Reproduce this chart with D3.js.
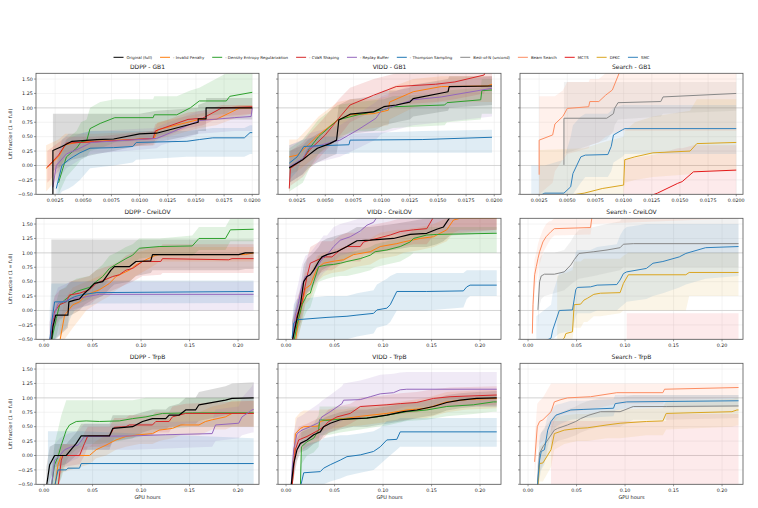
<!DOCTYPE html>
<html><head><meta charset="utf-8">
<script src="https://cdn.jsdelivr.net/npm/d3@7"></script>
<style>body{margin:0;background:#fff}svg{display:block}text{font-family:"DejaVu Sans",sans-serif}</style>
</head><body><svg id="c" width="758" height="508"></svg>
<script>
// ---------- names / colours ----------
const ablKeys = ["full","invalid","density","cvar","replay","thompson"];
const ablNames = ["Original (full)","- Invalid Penalty","- Density Entropy Regularization","- CVaR Shaping","- Replay Buffer","- Thompson Sampling"];
const ablColors = ["#000000","#ff7f0e","#2ca02c","#d62728","#9467bd","#1f77b4"];
const srchKeys = ["bon","beam","mcts","dfkc","smc"];
const srchNames = ["Best-of-N (uncond)","Beam Search","MCTS","DFKC","SMC"];
const srchColors = ["#888888","#fc8d62","#e41a1c","#daa520","#3182bd"];
const yTicks = [-0.5,-0.25,0,0.25,0.5,0.75,1,1.25,1.5];
const xTicksRow1 = [0.0025,0.005,0.0075,0.01,0.0125,0.015,0.0175,0.02];
const xTicksRow23 = [0,0.05,0.1,0.15,0.2];
const rowNames = ["GB1","CreiLOV","TrpB"];
const colNames = ["DDPP","VIDD","Search"];
// each point: [gpu hours, mean lift fraction, band low, band high]

// ---------- GB1 ----------
const ddppGB1 = {
 full:[[0.0023,-0.6,-0.6,0.9],[0.0023,0.26,-0.1,0.9],[0.0031,0.33,0.0,0.9],[0.0040,0.42,0.1,0.9],[0.0062,0.45,0.2,0.9],[0.0077,0.46,0.25,0.9],[0.0100,0.55,0.35,0.9],[0.0115,0.56,0.4,0.95],[0.0152,0.75,0.55,1.0],[0.0152,0.81,0.6,1.05],[0.0159,0.81,0.6,1.1],[0.0159,1.0,0.8,1.17],[0.0200,1.0,0.8,1.17]],
 invalid:[[0.0017,-0.05,-0.45,0.35],[0.0028,0.15,-0.2,0.45],[0.0034,0.36,0.1,0.55],[0.0045,0.40,0.2,0.55],[0.0060,0.42,0.3,0.55],[0.0113,0.47,0.35,0.6],[0.0116,0.62,0.45,0.75],[0.0153,0.80,0.65,0.9],[0.0168,0.80,0.7,0.95],[0.0189,1.0,0.85,1.05],[0.0200,1.0,0.9,1.05]],
 density:[[0.0028,-0.3,-0.5,0.1],[0.0035,0.15,-0.2,0.45],[0.0044,0.30,0.0,0.6],[0.0048,0.41,0.1,0.75],[0.0053,0.43,0.15,0.8],[0.0056,0.64,0.25,1.0],[0.0065,0.73,0.3,1.1],[0.0078,0.83,0.4,1.15],[0.0112,0.83,0.45,1.15],[0.0113,0.88,0.5,1.2],[0.0133,0.88,0.6,1.2],[0.0145,1.0,0.75,1.3],[0.0153,1.12,0.85,1.35],[0.0177,1.12,0.9,1.6],[0.0180,1.20,0.95,1.6],[0.0200,1.27,1.0,1.6]],
 cvar:[[0.0018,-0.03,-0.3,0.25],[0.0028,0.18,-0.1,0.4],[0.0035,0.39,0.2,0.5],[0.0060,0.41,0.3,0.5],[0.0112,0.47,0.35,0.6],[0.0114,0.60,0.45,0.72],[0.0143,0.80,0.65,0.92],[0.0156,0.82,0.7,0.95],[0.0173,1.0,0.85,1.05],[0.0200,1.02,0.9,1.05]],
 replay:[[0.0023,-0.38,-0.5,0.0],[0.0026,0.0,-0.3,0.25],[0.0035,0.2,-0.05,0.45],[0.0047,0.30,0.1,0.55],[0.0057,0.40,0.2,0.6],[0.0115,0.47,0.3,0.65],[0.0119,0.50,0.35,0.7],[0.0153,0.78,0.55,0.95],[0.0184,0.83,0.6,1.0],[0.0199,0.85,0.6,1.0],[0.0200,1.0,0.6,1.0]],
 thompson:[[0.0026,-0.4,-0.6,0.0],[0.0031,0.0,-0.45,0.45],[0.0037,0.10,-0.4,0.55],[0.0041,0.15,-0.35,0.55],[0.0047,0.22,-0.25,0.55],[0.0056,0.30,-0.05,0.6],[0.0077,0.31,0.0,0.6],[0.0094,0.33,0.05,0.6],[0.0097,0.40,0.1,0.6],[0.0142,0.42,0.15,0.6],[0.0153,0.45,0.15,0.62],[0.0165,0.48,0.15,0.65],[0.0193,0.48,0.15,0.65],[0.0198,0.57,0.2,0.7],[0.0200,0.57,0.2,0.7]]
};
const viddGB1 = {
 full:[[0.0018,-0.04,-0.3,0.25],[0.0030,0.10,-0.15,0.35],[0.0035,0.18,-0.05,0.45],[0.0043,0.30,0.05,0.55],[0.0054,0.38,0.15,0.65],[0.0060,0.44,0.2,0.75],[0.0062,0.79,0.45,1.05],[0.0072,0.89,0.55,1.15],[0.0093,0.93,0.6,1.2],[0.0102,1.02,0.7,1.3],[0.0113,1.05,0.75,1.3],[0.0125,1.10,0.8,1.35],[0.0128,1.16,0.85,1.4],[0.0159,1.28,0.95,1.5],[0.0160,1.37,1.0,1.55],[0.0198,1.38,1.05,1.55]],
 invalid:[[0.0018,0.15,-0.15,0.45],[0.0025,0.18,-0.1,0.45],[0.0035,0.36,0.05,0.65],[0.0044,0.53,0.2,0.85],[0.0061,0.79,0.45,1.1],[0.0073,0.88,0.6,1.15],[0.0093,0.90,0.65,1.15],[0.0106,0.96,0.7,1.2],[0.0107,1.10,0.8,1.35],[0.0128,1.28,1.0,1.5],[0.0153,1.37,1.1,1.55],[0.0194,1.38,1.1,1.55],[0.0198,1.41,1.1,1.55]],
 density:[[0.0018,-0.05,-0.45,0.3],[0.0030,0.12,-0.3,0.45],[0.0036,0.30,-0.05,0.6],[0.0044,0.50,0.2,0.8],[0.0061,0.79,0.5,1.05],[0.0079,0.88,0.6,1.1],[0.0102,0.97,0.6,1.15],[0.0110,1.02,0.65,1.2],[0.0156,1.05,0.7,1.25],[0.0158,1.09,0.75,1.3],[0.0188,1.14,0.8,1.35],[0.0189,1.30,0.9,1.5],[0.0198,1.31,0.9,1.5]],
 cvar:[[0.0018,-0.4,-0.5,0.0],[0.0019,-0.05,-0.35,0.25],[0.0030,0.10,-0.2,0.4],[0.0036,0.27,-0.05,0.55],[0.0050,0.53,0.25,0.85],[0.0062,0.82,0.5,1.15],[0.0072,1.05,0.75,1.35],[0.0093,1.22,0.95,1.5],[0.0113,1.37,1.05,1.6],[0.0148,1.41,1.1,1.6],[0.0165,1.45,1.15,1.6],[0.0191,1.57,1.25,1.6],[0.0192,1.62,1.3,1.65],[0.0198,1.65,1.3,1.65]],
 replay:[[0.0018,-0.02,-0.3,0.35],[0.0030,0.12,-0.15,0.45],[0.0035,0.30,0.0,0.55],[0.0043,0.34,0.05,0.6],[0.0063,0.44,0.15,0.7],[0.0079,0.62,0.3,0.9],[0.0095,0.82,0.45,1.1],[0.0100,0.96,0.55,1.2],[0.0128,1.14,0.7,1.4],[0.0153,1.19,0.75,1.45],[0.0198,1.34,0.85,1.55]],
 thompson:[[0.0018,0.04,-0.25,0.35],[0.0025,0.15,-0.1,0.4],[0.0031,0.33,0.2,0.45],[0.0041,0.34,0.2,0.5],[0.0071,0.36,0.2,0.5],[0.0072,0.44,0.22,0.55],[0.0136,0.45,0.22,0.6],[0.0198,0.49,0.22,0.62]]
};
const searchGB1 = {
 bon:[[0.0047,0.01,-0.3,0.5],[0.0047,0.82,0.2,1.45],[0.0085,0.82,0.45,1.45],[0.0091,0.90,0.6,1.45],[0.0092,0.99,0.7,1.45],[0.0095,1.09,0.8,1.45],[0.0133,1.11,0.85,1.45],[0.0135,1.19,0.9,1.45],[0.0200,1.25,0.95,1.45]],
 beam:[[0.0025,-0.16,-0.5,1.2],[0.0025,0.44,-0.5,1.2],[0.0037,0.53,-0.3,1.2],[0.0039,0.72,-0.1,1.2],[0.0046,0.85,0.1,1.3],[0.0050,0.99,0.2,1.45],[0.0069,1.02,0.3,1.45],[0.0070,1.11,0.35,1.5],[0.0078,1.11,0.4,1.5],[0.0084,1.22,0.5,1.6],[0.0090,1.31,0.55,1.6],[0.0097,1.65,0.6,1.65],[0.0200,1.70,0.6,1.65]],
 mcts:[[0.0100,-0.7,-0.8,0.1],[0.0130,-0.48,-0.8,0.2],[0.0148,-0.31,-0.7,0.3],[0.0152,-0.28,-0.7,0.3],[0.0162,-0.11,-0.6,0.35],[0.0200,-0.08,-0.6,0.35]],
 dfkc:[[0.0025,-0.6,-0.5,0.27],[0.0065,-0.48,-0.5,0.3],[0.0081,-0.40,-0.5,0.4],[0.0100,-0.34,-0.5,0.5],[0.0101,0.10,-0.3,0.6],[0.0110,0.15,-0.25,0.75],[0.0126,0.22,-0.2,0.85],[0.0159,0.25,-0.15,0.95],[0.0165,0.38,-0.1,1.15],[0.0200,0.40,-0.1,1.15]],
 smc:[[0.0018,-0.6,-0.5,0.0],[0.0030,-0.48,-0.5,0.0],[0.0047,-0.48,-0.5,0.1],[0.0053,-0.37,-0.5,0.5],[0.0055,-0.14,-0.5,0.7],[0.0062,0.15,-0.3,0.85],[0.0066,0.18,-0.2,0.9],[0.0086,0.19,-0.2,0.9],[0.0089,0.33,-0.1,0.95],[0.0091,0.53,0.05,1.0],[0.0099,0.62,0.15,1.05],[0.0101,0.64,0.2,1.05],[0.0200,0.64,0.2,1.05]]
};

// ---------- CreiLOV ----------
const ddppCrei = {
 full:[[0.0075,-0.55,-0.5,1.23],[0.0092,-0.28,-0.5,1.23],[0.0120,-0.08,-0.5,1.23],[0.0246,-0.08,-0.3,1.23],[0.0256,0.15,-0.1,1.23],[0.0315,0.18,-0.05,1.23],[0.0366,0.20,0.0,1.23],[0.0417,0.30,0.1,1.23],[0.0468,0.38,0.15,1.23],[0.0520,0.47,0.2,1.23],[0.0605,0.50,0.25,1.23],[0.0690,0.70,0.4,1.23],[0.0725,0.76,0.45,1.23],[0.0879,0.76,0.5,1.23],[0.0947,0.85,0.6,1.23],[0.1100,0.86,0.65,1.23],[0.1118,0.97,0.7,1.23],[0.2007,0.97,0.7,1.23],[0.2075,1.0,0.72,1.23],[0.2160,1.0,0.72,1.23]],
 invalid:[[0.0161,-0.55,-0.6,-0.3],[0.0212,-0.08,-0.5,0.2],[0.0297,0.10,-0.3,0.4],[0.0366,0.15,-0.15,0.45],[0.0434,0.27,0.0,0.5],[0.0571,0.36,0.15,0.6],[0.0674,0.47,0.25,0.7],[0.0742,0.59,0.35,0.8],[0.0879,0.70,0.5,0.9],[0.0947,0.79,0.6,1.0],[0.1050,0.88,0.7,1.05],[0.1152,0.96,0.8,1.1],[0.1186,0.97,0.85,1.1],[0.2075,0.97,0.85,1.1],[0.2160,1.0,0.85,1.1]],
 density:[[0.0075,-0.55,-0.6,-0.3],[0.0126,-0.14,-0.45,0.15],[0.0161,0.10,-0.2,0.35],[0.0212,0.18,-0.05,0.4],[0.0280,0.27,0.05,0.5],[0.0332,0.33,0.1,0.55],[0.0468,0.40,0.2,0.6],[0.0537,0.50,0.3,0.7],[0.0605,0.59,0.4,0.8],[0.0674,0.73,0.55,0.95],[0.0742,0.80,0.6,1.0],[0.0844,0.90,0.7,1.1],[0.0913,0.96,0.8,1.15],[0.0981,1.08,0.9,1.25],[0.1186,1.11,0.95,1.25],[0.1528,1.12,0.95,1.3],[0.1597,1.25,1.05,1.45],[0.1870,1.25,1.05,1.45],[0.1921,1.40,1.2,1.6],[0.2160,1.41,1.2,1.6]],
 cvar:[[0.0058,-0.55,-0.6,-0.2],[0.0109,-0.02,-0.3,0.25],[0.0161,0.10,-0.15,0.35],[0.0229,0.15,-0.1,0.4],[0.0263,0.27,0.0,0.5],[0.0366,0.30,0.05,0.55],[0.0468,0.36,0.1,0.6],[0.0537,0.47,0.2,0.7],[0.0708,0.59,0.35,0.8],[0.0776,0.62,0.4,0.85],[0.0844,0.70,0.45,0.95],[0.0913,0.73,0.5,1.0],[0.1015,0.85,0.6,1.1],[0.1203,0.85,0.62,1.1],[0.1221,0.90,0.65,1.15],[0.1904,0.88,0.65,1.15],[0.1938,0.90,0.65,1.15],[0.2160,0.90,0.65,1.15]],
 replay:[[0.0058,-0.55,-0.6,-0.2],[0.0092,-0.14,-0.4,0.15],[0.0144,0.12,-0.15,0.4],[0.0280,0.21,0.0,0.5],[0.0383,0.22,0.0,0.5],[0.0434,0.24,0.0,0.5],[0.0537,0.27,0.0,0.5],[0.0571,0.28,0.0,0.5],[0.2160,0.28,0.0,0.5]],
 thompson:[[0.0058,-0.55,-0.6,0.0],[0.0075,-0.25,-0.5,0.47],[0.0109,0.15,-0.5,0.47],[0.0229,0.15,-0.3,0.47],[0.0280,0.21,-0.1,0.5],[0.0315,0.24,0.0,0.5],[0.0383,0.27,0.05,0.5],[0.0537,0.31,0.12,0.52],[0.2160,0.33,0.13,0.52]]
};
const viddCrei = {
 full:[[0.0062,-0.55,-0.6,-0.2],[0.0113,-0.14,-0.4,0.15],[0.0148,0.10,-0.2,0.4],[0.0182,0.50,0.2,0.8],[0.0216,0.59,0.3,0.9],[0.0250,0.62,0.35,0.95],[0.0285,0.70,0.45,1.0],[0.0336,0.85,0.6,1.1],[0.0370,0.93,0.7,1.2],[0.0422,0.97,0.75,1.25],[0.0525,1.02,0.8,1.3],[0.0628,1.11,0.9,1.35],[0.0731,1.21,1.0,1.45],[0.0868,1.22,1.0,1.45],[0.1108,1.25,1.05,1.5],[0.1280,1.32,1.1,1.55],[0.1451,1.34,1.1,1.6],[0.1554,1.41,1.15,1.6],[0.1623,1.45,1.2,1.65],[0.1691,1.62,1.3,1.7],[0.2170,1.68,1.35,1.7]],
 invalid:[[0.0096,-0.55,-0.6,-0.3],[0.0130,-0.14,-0.45,0.1],[0.0165,0.10,-0.2,0.4],[0.0199,0.38,0.1,0.65],[0.0250,0.44,0.2,0.7],[0.0319,0.73,0.5,0.95],[0.0388,0.82,0.6,1.0],[0.0473,0.85,0.65,1.05],[0.0593,0.88,0.68,1.1],[0.0696,0.97,0.75,1.2],[0.0868,1.02,0.8,1.25],[0.0971,1.11,0.9,1.35],[0.1142,1.16,0.95,1.4],[0.1211,1.19,1.0,1.4],[0.1383,1.25,1.05,1.45],[0.1520,1.28,1.1,1.5],[0.1657,1.40,1.2,1.6],[0.1726,1.57,1.35,1.6],[0.1794,1.60,1.4,1.6],[0.2172,1.60,1.4,1.6]],
 density:[[0.0079,-0.55,-0.6,-0.3],[0.0113,-0.25,-0.5,0.0],[0.0165,0.10,-0.2,0.4],[0.0216,0.27,0.0,0.55],[0.0250,0.30,0.05,0.6],[0.0285,0.50,0.25,0.75],[0.0336,0.76,0.5,0.95],[0.0422,0.79,0.55,0.95],[0.0491,0.80,0.58,0.95],[0.0559,0.82,0.6,1.0],[0.0628,0.85,0.6,1.0],[0.0765,0.90,0.65,1.05],[0.0868,0.96,0.7,1.1],[0.0919,1.02,0.75,1.15],[0.1039,1.05,0.8,1.2],[0.1177,1.11,0.85,1.25],[0.1280,1.19,0.95,1.35],[0.1314,1.25,1.0,1.4],[0.1451,1.31,1.0,1.45],[0.1554,1.32,1.0,1.45],[0.2172,1.34,1.0,1.45]],
 cvar:[[0.0062,-0.55,-0.6,-0.2],[0.0113,-0.08,-0.35,0.2],[0.0165,0.15,-0.15,0.45],[0.0216,0.59,0.3,0.9],[0.0250,0.82,0.5,1.1],[0.0353,0.90,0.65,1.2],[0.0405,0.93,0.7,1.2],[0.0473,0.93,0.7,1.2],[0.0559,1.05,0.8,1.3],[0.0628,1.11,0.85,1.35],[0.0765,1.11,0.85,1.35],[0.0799,1.19,0.95,1.45],[0.0937,1.25,1.0,1.5],[0.1074,1.31,1.05,1.55],[0.1177,1.37,1.1,1.6],[0.1314,1.40,1.15,1.6],[0.1451,1.42,1.15,1.65],[0.1520,1.62,1.3,1.7],[0.2170,1.70,1.4,1.8]],
 replay:[[0.0062,-0.55,-0.6,-0.2],[0.0096,-0.08,-0.35,0.25],[0.0130,0.15,-0.15,0.5],[0.0165,0.44,0.1,0.8],[0.0199,0.59,0.3,0.95],[0.0250,0.62,0.35,1.0],[0.0319,0.76,0.5,1.15],[0.0388,0.93,0.65,1.3],[0.0422,0.96,0.7,1.3],[0.0491,1.11,0.85,1.45],[0.0559,1.22,0.95,1.5],[0.0662,1.28,1.0,1.55],[0.0765,1.38,1.1,1.6],[0.0834,1.48,1.2,1.65],[0.0902,1.53,1.25,1.7],[0.0937,1.62,1.3,1.7],[0.2170,1.75,1.4,1.8]],
 thompson:[[0.0062,-0.48,-0.6,-0.2],[0.0079,-0.22,-0.55,0.1],[0.0113,-0.16,-0.5,0.2],[0.0422,-0.12,-0.5,0.25],[0.0628,-0.10,-0.5,0.25],[0.0731,-0.08,-0.45,0.3],[0.0902,-0.05,-0.4,0.35],[0.0937,0.01,-0.3,0.45],[0.1039,0.04,-0.25,0.55],[0.1074,0.10,-0.2,0.6],[0.1142,0.33,0.0,0.65],[0.1451,0.33,0.0,0.65],[0.1828,0.34,0.05,0.65],[0.1863,0.41,0.2,0.7],[0.1897,0.44,0.25,0.7],[0.2172,0.44,0.25,0.7]]
};
const searchCrei = {
 bon:[[0.0102,0.01,-0.3,0.4],[0.0119,0.50,0.1,0.9],[0.0136,0.60,0.2,0.95],[0.0169,0.63,0.25,1.0],[0.0271,0.63,0.3,1.0],[0.0373,0.67,0.35,1.05],[0.0441,0.79,0.45,1.2],[0.0475,0.88,0.5,1.3],[0.0525,0.99,0.55,1.4],[0.0678,1.02,0.6,1.45],[0.0814,1.05,0.65,1.5],[0.0949,1.09,0.7,1.55],[0.0983,1.15,0.75,1.65],[0.1085,1.16,0.75,1.65],[0.2170,1.16,0.75,1.65]],
 beam:[[0.0044,-0.40,-0.5,-0.1],[0.0051,0.10,-0.2,0.4],[0.0068,0.62,0.35,0.9],[0.0085,0.76,0.5,1.0],[0.0102,0.90,0.65,1.15],[0.0119,1.02,0.8,1.25],[0.0153,1.19,1.0,1.4],[0.0186,1.28,1.1,1.5],[0.0220,1.34,1.2,1.55],[0.0237,1.37,1.25,1.55],[0.0271,1.42,1.3,1.6],[0.0644,1.44,1.32,1.6],[0.0661,1.65,1.5,1.8],[0.2170,1.80,1.6,1.9]],
 mcts:[[0.1017,-0.8,-0.8,-0.05],[0.2170,-0.8,-0.8,-0.05]],
 dfkc:[[0.0300,-0.6,-0.6,0.6],[0.0373,-0.48,-0.5,0.65],[0.0390,-0.40,-0.5,0.65],[0.0458,-0.37,-0.5,0.7],[0.0475,0.10,-0.3,0.85],[0.0542,0.11,-0.3,0.85],[0.0576,0.18,-0.2,0.9],[0.0610,0.21,-0.2,0.9],[0.0678,0.28,-0.1,0.9],[0.0746,0.30,-0.1,0.9],[0.0949,0.31,-0.05,0.9],[0.0983,0.47,0.0,0.95],[0.1034,0.62,0.0,1.0],[0.1627,0.62,0.0,1.0],[0.1661,0.66,0.25,1.0],[0.2170,0.66,0.25,1.0]],
 smc:[[0.0085,-0.6,-0.6,-0.1],[0.0237,-0.48,-0.5,0.1],[0.0254,-0.34,-0.5,0.3],[0.0322,0.00,-0.4,0.65],[0.0458,0.01,-0.35,0.75],[0.0492,0.36,-0.1,1.0],[0.0508,0.40,-0.05,1.05],[0.0644,0.41,-0.05,1.05],[0.0712,0.44,0.0,1.1],[0.0915,0.45,0.0,1.15],[0.0949,0.53,0.05,1.3],[0.0983,0.64,0.1,1.4],[0.1017,0.67,0.15,1.45],[0.1220,0.73,0.2,1.5],[0.1288,0.82,0.25,1.5],[0.1390,0.85,0.3,1.5],[0.1559,0.93,0.4,1.5],[0.1627,0.99,0.45,1.5],[0.1831,1.09,0.55,1.5],[0.2170,1.11,0.6,1.5]]
};

// ---------- TrpB ----------
const ddppTrpB = {
 full:[[0.0024,-0.55,-0.6,-0.2],[0.0058,-0.16,-0.45,0.15],[0.0109,0.00,-0.2,0.2],[0.0229,0.00,-0.15,0.2],[0.0332,0.21,0.0,0.4],[0.0383,0.34,0.1,0.55],[0.0674,0.34,0.1,0.55],[0.0708,0.47,0.25,0.7],[0.0913,0.50,0.3,0.7],[0.1015,0.59,0.4,0.75],[0.1118,0.64,0.45,0.8],[0.1255,0.64,0.45,0.8],[0.1289,0.70,0.5,0.85],[0.1391,0.70,0.5,0.9],[0.1460,0.79,0.55,1.0],[0.1562,0.79,0.55,1.0],[0.1597,0.88,0.6,1.1],[0.1870,0.96,0.7,1.2],[0.1938,0.99,0.72,1.25],[0.2161,1.00,0.72,1.27]],
 invalid:[[0.0109,-0.55,-0.6,-0.3],[0.0144,-0.16,-0.5,0.1],[0.0178,0.00,-0.3,0.2],[0.0468,0.00,-0.15,0.15],[0.0537,0.10,-0.05,0.25],[0.0639,0.18,0.0,0.35],[0.0742,0.27,0.1,0.45],[0.0844,0.33,0.15,0.5],[0.0981,0.36,0.2,0.55],[0.1118,0.38,0.2,0.55],[0.1186,0.44,0.25,0.6],[0.1323,0.47,0.3,0.65],[0.1409,0.53,0.35,0.7],[0.1597,0.53,0.35,0.75],[0.1665,0.59,0.4,0.8],[0.1733,0.62,0.45,0.85],[0.1870,0.67,0.45,0.9],[0.1938,0.73,0.5,0.95],[0.2161,0.73,0.5,0.95]],
 density:[[0.0075,-0.55,-0.6,-0.3],[0.0109,-0.16,-0.5,0.2],[0.0144,-0.02,-0.5,0.45],[0.0178,0.18,-0.4,0.7],[0.0229,0.44,-0.1,0.96],[0.0263,0.53,0.0,0.96],[0.0332,0.59,0.1,0.96],[0.0434,0.60,0.2,0.96],[0.0571,0.59,0.2,0.96],[0.0776,0.60,0.25,0.96],[0.0913,0.64,0.3,0.96],[0.1050,0.67,0.35,1.0],[0.1221,0.73,0.45,1.0],[0.1528,0.74,0.5,1.0],[0.2161,0.74,0.5,1.0]],
 cvar:[[0.0144,-0.55,-0.6,-0.3],[0.0178,-0.08,-0.35,0.15],[0.0195,0.00,-0.2,0.2],[0.0366,0.00,-0.15,0.2],[0.0417,0.21,0.0,0.4],[0.0451,0.34,0.15,0.5],[0.0674,0.34,0.15,0.5],[0.0725,0.49,0.3,0.65],[0.0844,0.50,0.32,0.65],[0.0879,0.53,0.35,0.7],[0.1118,0.53,0.35,0.7],[0.1152,0.59,0.4,0.75],[0.1289,0.59,0.4,0.75],[0.1323,0.67,0.5,0.85],[0.1460,0.73,0.5,0.9],[0.2161,0.73,0.5,0.95]],
 replay:[[0.0075,-0.55,-0.6,-0.3],[0.0109,-0.08,-0.4,0.2],[0.0161,0.00,-0.25,0.3],[0.0212,0.10,-0.15,0.35],[0.0280,0.15,-0.1,0.4],[0.0349,0.18,-0.05,0.42],[0.0417,0.33,0.1,0.55],[0.0913,0.34,0.1,0.55],[0.1255,0.36,0.12,0.58],[0.1733,0.38,0.15,0.6],[0.1768,0.53,0.25,0.8],[0.2007,0.56,0.3,0.85],[0.2041,0.67,0.35,1.0],[0.2144,0.79,0.4,1.2],[0.2161,0.80,0.4,1.27]],
 thompson:[[0.0040,-0.8,-0.8,0.42],[0.0109,-0.55,-0.6,0.42],[0.0144,-0.25,-0.6,0.42],[0.0229,-0.25,-0.6,0.42],[0.0246,-0.22,-0.6,0.42],[0.0366,-0.22,-0.6,0.42],[0.0383,-0.14,-0.6,0.42],[0.2161,-0.14,-0.6,0.3]]
};
const viddTrpB = {
 full:[[0.0051,-0.55,-0.6,-0.3],[0.0079,-0.14,-0.4,0.15],[0.0113,0.10,-0.1,0.3],[0.0148,0.21,0.05,0.4],[0.0216,0.27,0.1,0.45],[0.0285,0.36,0.2,0.5],[0.0353,0.41,0.25,0.55],[0.0388,0.50,0.35,0.65],[0.0456,0.56,0.4,0.7],[0.0559,0.62,0.45,0.75],[0.0696,0.64,0.5,0.8],[0.0834,0.65,0.5,0.8],[0.1039,0.70,0.55,0.85],[0.1211,0.76,0.6,0.9],[0.1348,0.79,0.65,0.92],[0.1520,0.85,0.7,0.98],[0.1657,0.92,0.78,1.05],[0.1794,0.96,0.82,1.08],[0.1966,0.99,0.85,1.1],[0.2172,1.00,0.85,1.12]],
 invalid:[[0.0062,-0.55,-0.6,-0.2],[0.0096,0.38,0.1,0.65],[0.0148,0.47,0.25,0.75],[0.0182,0.50,0.3,0.78],[0.0336,0.51,0.3,0.78],[0.0353,0.59,0.4,0.8],[0.0422,0.62,0.45,0.8],[0.0593,0.64,0.5,0.8],[0.0765,0.68,0.52,0.85],[0.1039,0.73,0.58,0.9],[0.1245,0.79,0.62,0.95],[0.1451,0.82,0.65,1.0],[0.1657,0.93,0.75,1.1],[0.1863,0.97,0.8,1.12],[0.2172,0.99,0.82,1.15]],
 density:[[0.0148,-0.55,-0.6,-0.3],[0.0158,0.15,-0.15,0.45],[0.0216,0.24,0.0,0.5],[0.0285,0.30,0.05,0.55],[0.0336,0.44,0.15,0.7],[0.0346,0.62,0.35,0.85],[0.0422,0.61,0.35,0.85],[0.0559,0.63,0.4,0.85],[0.0765,0.64,0.45,0.85],[0.0937,0.67,0.5,0.85],[0.1039,0.70,0.52,0.88],[0.1245,0.76,0.6,0.92],[0.1451,0.79,0.62,0.95],[0.1657,0.85,0.68,1.0],[0.1931,0.88,0.72,1.02],[0.2137,0.93,0.76,1.05],[0.2172,0.93,0.76,1.05]],
 cvar:[[0.0062,-0.55,-0.6,-0.2],[0.0096,0.10,-0.15,0.35],[0.0130,0.27,0.05,0.5],[0.0216,0.33,0.15,0.55],[0.0336,0.44,0.25,0.65],[0.0388,0.50,0.3,0.7],[0.0439,0.59,0.4,0.8],[0.0525,0.67,0.45,0.85],[0.0662,0.73,0.55,0.9],[0.0765,0.85,0.65,1.0],[0.1039,0.88,0.7,1.05],[0.1177,0.90,0.72,1.08],[0.1348,0.92,0.75,1.1],[0.1520,0.99,0.82,1.15],[0.1691,1.02,0.85,1.18],[0.2172,1.05,0.88,1.2]],
 replay:[[0.0051,-0.55,-0.6,-0.2],[0.0079,0.10,-0.2,0.4],[0.0113,0.38,0.1,0.65],[0.0165,0.44,0.2,0.7],[0.0250,0.50,0.25,0.8],[0.0336,0.57,0.3,0.9],[0.0370,0.67,0.35,0.95],[0.0456,0.76,0.45,1.05],[0.0576,0.90,0.6,1.2],[0.0593,0.96,0.65,1.25],[0.0765,0.97,0.65,1.3],[0.0868,1.02,0.7,1.35],[0.0971,1.07,0.75,1.4],[0.1108,1.09,0.78,1.42],[0.1177,1.14,0.82,1.44],[0.1245,1.15,0.85,1.45],[0.2172,1.15,0.85,1.45]],
 thompson:[[0.0148,-0.55,-0.6,-0.2],[0.0182,-0.30,-0.55,0.2],[0.0353,-0.28,-0.55,0.25],[0.0388,-0.22,-0.5,0.3],[0.0456,-0.16,-0.45,0.32],[0.0559,-0.08,-0.4,0.35],[0.0628,-0.02,-0.35,0.35],[0.0765,0.01,-0.3,0.38],[0.0902,0.07,-0.25,0.42],[0.0971,0.15,-0.15,0.48],[0.1039,0.27,-0.05,0.6],[0.1142,0.28,0.1,0.62],[0.1177,0.41,0.15,0.65],[0.2172,0.41,0.15,0.65]]
};
const searchTrpB = {
 bon:[[0.0095,-0.55,-0.6,-0.2],[0.0119,0.04,-0.3,0.35],[0.0153,0.15,-0.15,0.45],[0.0203,0.27,0.0,0.55],[0.0271,0.44,0.2,0.7],[0.0305,0.47,0.25,0.72],[0.0407,0.53,0.3,0.8],[0.0492,0.59,0.35,0.85],[0.0542,0.64,0.4,0.9],[0.0627,0.70,0.45,0.95],[0.0746,0.76,0.5,1.0],[0.0949,0.76,0.5,1.0],[0.1085,0.85,0.62,1.05],[0.1424,0.85,0.62,1.05],[0.2170,0.86,0.65,1.05]],
 beam:[[0.0068,-0.11,-0.4,0.3],[0.0095,0.50,0.1,0.9],[0.0119,0.59,0.2,0.95],[0.0153,0.62,0.25,1.0],[0.0237,0.76,0.4,1.25],[0.0271,0.93,0.6,1.25],[0.0339,0.97,0.7,1.25],[0.0407,1.00,0.75,1.25],[0.0644,1.02,0.8,1.25],[0.0915,1.09,0.9,1.25],[0.1390,1.09,0.9,1.25],[0.1407,1.15,0.95,1.25],[0.2170,1.18,1.0,1.25]],
 mcts:[[0.0237,-0.8,-0.8,0.6],[0.1424,-0.8,-0.8,0.6],[0.1424,-0.8,-0.8,0.72],[0.2170,-0.8,-0.8,0.72]],
 dfkc:[[0.0102,-0.55,-0.6,-0.3],[0.0119,-0.14,-0.45,0.15],[0.0153,-0.13,-0.45,0.2],[0.0237,0.10,-0.2,0.45],[0.0271,0.38,0.1,0.65],[0.0373,0.44,0.2,0.7],[0.0508,0.47,0.25,0.72],[0.0610,0.48,0.25,0.72],[0.0814,0.53,0.3,0.78],[0.0949,0.56,0.3,0.8],[0.1220,0.59,0.35,0.82],[0.1390,0.60,0.35,0.82],[0.1424,0.73,0.45,0.95],[0.2102,0.76,0.5,0.98],[0.2153,0.79,0.52,1.0],[0.2170,0.79,0.52,1.0]],
 smc:[[0.0095,-0.55,-0.6,-0.2],[0.0119,-0.08,-0.4,0.25],[0.0136,0.07,-0.25,0.4],[0.0169,0.10,-0.15,0.45],[0.0203,0.44,0.15,0.7],[0.0237,0.59,0.35,0.8],[0.0288,0.70,0.5,0.88],[0.0339,0.73,0.55,0.9],[0.0441,0.79,0.62,0.95],[0.0576,0.80,0.65,0.95],[0.0881,0.82,0.68,0.98],[0.0898,0.90,0.78,1.05],[0.1017,0.93,0.82,1.05],[0.2170,0.95,0.85,1.05]]
};

// ---------- drawing ----------
const panelData = [[ddppGB1,viddGB1,searchGB1],[ddppCrei,viddCrei,searchCrei],[ddppTrpB,viddTrpB,searchTrpB]];
const svg = d3.select("#c");
svg.append("rect").attr("width",758).attr("height",508).attr("fill","#fff");
const colLeft = [36,278,520], rowTop = [73.3,218.3,363.3], PW = 223, PH = 121;
const yDom = [-0.5,1.6];
const xDomRow1 = [0.0008,0.0206], xDomRow23 = [-0.0083,0.2216];
const minus = s => s.replace("-","\u2212");
const srchAlpha = [0.12,0.12,0.09,0.11,0.11];

panelData.forEach((rowArr,r)=>{
  rowArr.forEach((data,c)=>{
    const L = colLeft[c], T = rowTop[r];
    const x = d3.scaleLinear().domain(r===0?xDomRow1:xDomRow23).range([L,L+PW]);
    const y = d3.scaleLinear().domain(yDom).range([T+PH,T]);
    const xt = r===0?xTicksRow1:xTicksRow23;
    const g = svg.append("g");
    const cid = "clip"+r+c;
    g.append("clipPath").attr("id",cid).append("rect").attr("x",L).attr("y",T).attr("width",PW).attr("height",PH);
    const grid = g.append("g");
    grid.selectAll(".gx").data(xt).enter().append("line")
      .attr("x1",d=>x(d)).attr("x2",d=>x(d)).attr("y1",T).attr("y2",T+PH)
      .attr("stroke","#e6e6e6").attr("stroke-width",0.5);
    grid.selectAll(".gy").data(yTicks).enter().append("line")
      .attr("x1",L).attr("x2",L+PW).attr("y1",d=>y(d)).attr("y2",d=>y(d))
      .attr("stroke","#e6e6e6").attr("stroke-width",0.5);
    grid.selectAll(".ref").data([0,1]).enter().append("line")
      .attr("x1",L).attr("x2",L+PW).attr("y1",d=>y(d)).attr("y2",d=>y(d))
      .attr("stroke","#c4c4c4").attr("stroke-width",0.6);
    const isSearch = c===2;
    const keys = isSearch?srchKeys:ablKeys;
    const cols = isSearch?srchColors:ablColors;
    const area = d3.area().x(d=>x(d[0])).y0(d=>y(d[2])).y1(d=>y(d[3]));
    const line = d3.line().x(d=>x(d[0])).y(d=>y(d[1]));
    const pg = g.append("g").attr("clip-path","url(#"+cid+")");
    keys.forEach((k,i)=>{
      pg.append("path").datum(data[k]).attr("d",area)
        .attr("fill",cols[i]).attr("fill-opacity",isSearch?srchAlpha[i]:0.14).attr("stroke","none");
    });
    const order = isSearch?[0,1,2,3,4]:[1,2,3,4,5,0];
    order.forEach(i=>{
      pg.append("path").datum(data[keys[i]]).attr("d",line)
        .attr("fill","none").attr("stroke",cols[i]).attr("stroke-width",i===0&&!isSearch?1.2:1.0)
        .attr("stroke-linejoin","round");
    });
    g.append("rect").attr("x",L).attr("y",T).attr("width",PW).attr("height",PH)
      .attr("fill","none").attr("stroke","#555").attr("stroke-width",0.8);
    const xa = g.append("g");
    xa.selectAll("line").data(xt).enter().append("line")
      .attr("x1",d=>x(d)).attr("x2",d=>x(d)).attr("y1",T+PH).attr("y2",T+PH+2)
      .attr("stroke","#555").attr("stroke-width",0.6);
    xa.selectAll("text").data(xt).enter().append("text")
      .attr("x",d=>x(d)).attr("y",T+PH+7.6).attr("text-anchor","middle")
      .attr("font-size",4.8).attr("fill","#222")
      .text(d=>d3.format(r===0?".4f":".2f")(d));
    const ya = g.append("g");
    ya.selectAll("line").data(yTicks).enter().append("line")
      .attr("x1",L-2).attr("x2",L).attr("y1",d=>y(d)).attr("y2",d=>y(d))
      .attr("stroke","#555").attr("stroke-width",0.6);
    if(c===0){
      ya.selectAll("text").data(yTicks).enter().append("text")
        .attr("x",L-3.2).attr("y",d=>y(d)+1.7).attr("text-anchor","end")
        .attr("font-size",4.8).attr("fill","#222")
        .text(d=>minus(d3.format(".2f")(d)));
      g.append("text").attr("transform","translate("+(L-24.5)+","+(T+PH/2)+") rotate(-90)")
        .attr("text-anchor","middle").attr("font-size",4.8).attr("fill","#222")
        .text("Lift fraction (1 = full)");
    }
    if(r===2){
      g.append("text").attr("x",L+PW/2).attr("y",T+PH+15).attr("text-anchor","middle")
        .attr("font-size",5).attr("fill","#222").text("GPU hours");
    }
    g.append("text").attr("x",L+PW/2).attr("y",T-4).attr("text-anchor","middle")
      .attr("font-size",6).attr("fill","#222").text(colNames[c]+" - "+rowNames[r]);
  });
});

// legend
const legNames = ablNames.concat(srchNames);
const legColors = ablColors.concat(srchColors);
const lg = svg.append("g");
let cx = 0;
legNames.forEach((n,i)=>{
  lg.append("line").attr("x1",cx).attr("x2",cx+10).attr("y1",0).attr("y2",0)
    .attr("stroke",legColors[i]).attr("stroke-width",1.0);
  const t = lg.append("text").attr("x",cx+13).attr("y",1.4).attr("font-size",3.9).attr("fill","#222").text(n);
  const w = t.node().getComputedTextLength();
  cx += 13 + w + 8;
});
const total = cx - 8;
lg.attr("transform","translate("+(381.5-total/2)+",57.3)");
</script></body></html>
